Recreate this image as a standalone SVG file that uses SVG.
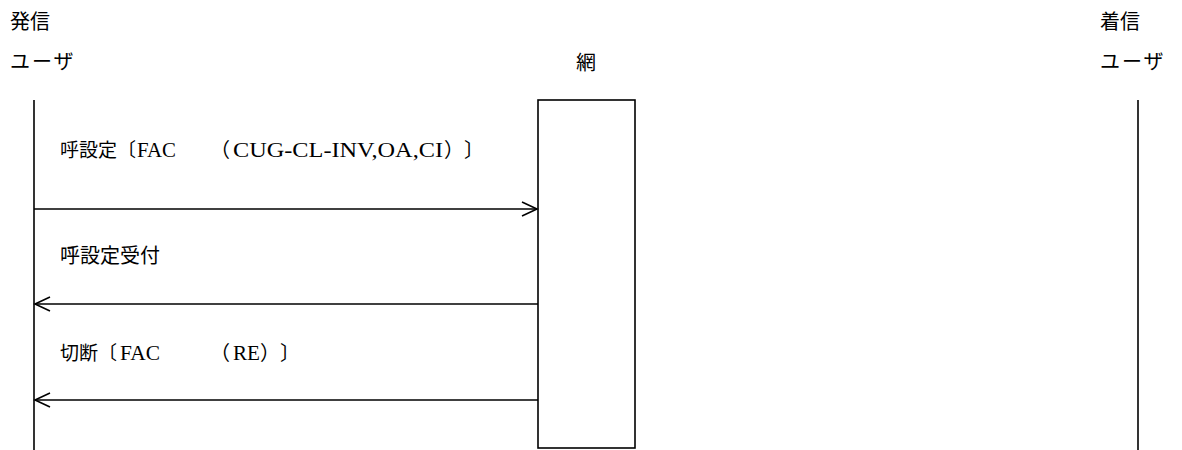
<svg xmlns="http://www.w3.org/2000/svg" width="1182" height="450" viewBox="0 0 1182 450">
<style>
.t{font-family:"Liberation Serif","Noto Sans CJK JP",serif;font-size:20px;fill:#000}
.s{font-size:19px}
.ln{stroke:#000;stroke-width:1.6;fill:none}
.box{stroke:#000;stroke-width:1.6;fill:#fff}
</style>
<defs>
<marker id="ah" markerUnits="userSpaceOnUse" markerWidth="20" markerHeight="20" viewBox="-16 -10 20 20" refX="0" refY="0" orient="auto">
<path d="M-15,-7 L0,0 L-15,7" fill="none" stroke="#000" stroke-width="1.6"/>
</marker>
</defs>
<rect width="1182" height="450" fill="#fff"/>
<g id="caller">
<text class="t" x="10" y="29">発信</text>
<text class="t" x="10" y="69" letter-spacing="2">ユーザ</text>
<line class="ln" x1="34" y1="100" x2="34" y2="450"/>
</g>
<g id="network">
<text class="t" x="586" y="70" text-anchor="middle">網</text>
<rect class="box" x="538" y="100" width="97" height="348"/>
</g>
<g id="callee">
<text class="t" x="1100" y="29">着信</text>
<text class="t" x="1100" y="69" letter-spacing="2">ユーザ</text>
<line class="ln" x1="1138" y1="100" x2="1138" y2="450"/>
</g>
<g id="connectors">
<line class="ln" x1="34" y1="209" x2="537" y2="209" marker-end="url(#ah)"/>
<line class="ln" x1="538" y1="304" x2="35" y2="304" marker-end="url(#ah)"/>
<line class="ln" x1="538" y1="400" x2="35" y2="400" marker-end="url(#ah)"/>
<text class="t" y="157"><tspan class="s" x="60">呼設定〔</tspan><tspan x="137" textLength="39" lengthAdjust="spacingAndGlyphs">FAC</tspan><tspan x="189">　</tspan><tspan x="210">（</tspan><tspan x="233" textLength="210" lengthAdjust="spacingAndGlyphs">CUG-CL-INV,OA,CI</tspan><tspan x="444">）</tspan><tspan x="464">〕</tspan></text>
<text class="t" x="60" y="263">呼設定受付</text>
<text class="t" y="360"><tspan class="s" x="60">切断〔</tspan><tspan x="120" textLength="40" lengthAdjust="spacingAndGlyphs">FAC</tspan><tspan x="189">　</tspan><tspan x="210">（</tspan><tspan x="233" textLength="27" lengthAdjust="spacingAndGlyphs">RE</tspan><tspan x="260">）</tspan><tspan x="280">〕</tspan></text>
</g>
</svg>
